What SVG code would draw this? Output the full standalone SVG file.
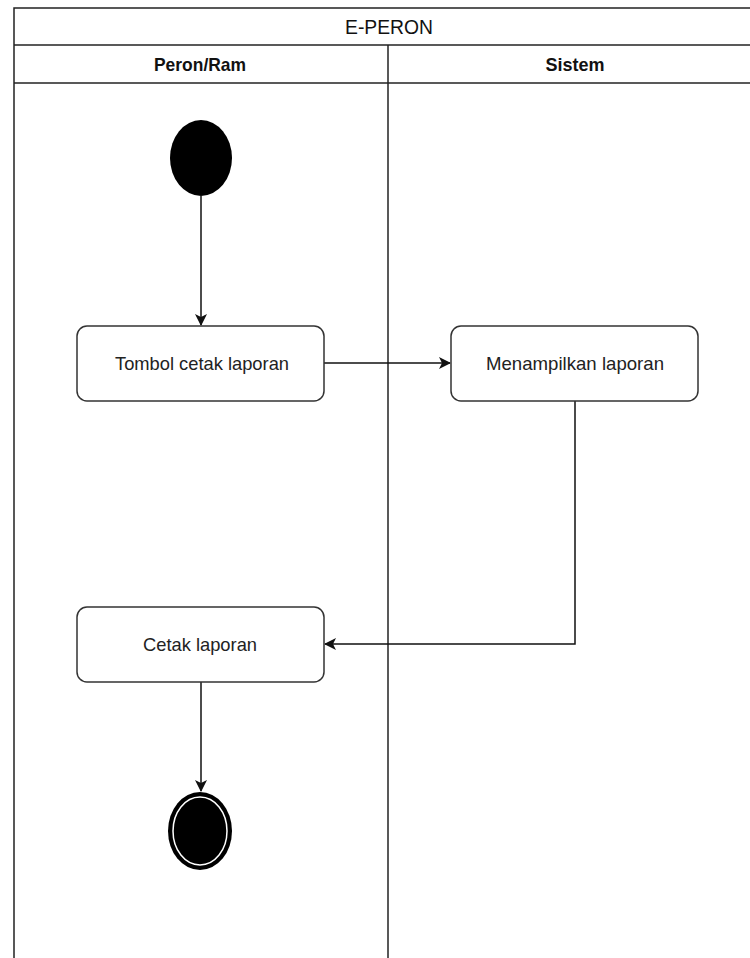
<svg xmlns="http://www.w3.org/2000/svg" width="750" height="958" viewBox="0 0 750 958">
  <style>
    .frame { fill: none; stroke: #222; stroke-width: 1.5; }
    .box { fill: #fff; stroke: #333; stroke-width: 1.5; }
    .edge { fill: none; stroke: #111; stroke-width: 1.5; }
    .lbl { font-family: "Liberation Sans", Arial, sans-serif; font-size: 19px; fill: #222; text-anchor: middle; }
    .title { font-family: "Liberation Sans", Arial, sans-serif; font-size: 20px; fill: #111; text-anchor: middle; }
    .head { font-family: "Liberation Sans", Arial, sans-serif; font-size: 19px; font-weight: bold; fill: #111; text-anchor: middle; }
  </style>
  <defs>
    <marker id="arrow" viewBox="0 0 12 12" refX="11" refY="6" markerWidth="12" markerHeight="12" markerUnits="userSpaceOnUse" orient="auto">
      <path d="M0,0 L12,6 L0,12 L3,6 Z" fill="#111"/>
    </marker>
  </defs>
  <rect width="750" height="958" fill="#fff"/>

  <!-- swimlane pool -->
  <g id="pool">
    <path class="frame" d="M14,960 V8 H752"/>
    <line class="frame" x1="14" y1="45" x2="752" y2="45"/>
    <line class="frame" x1="14" y1="83" x2="752" y2="83"/>
    <line class="frame" x1="388" y1="45" x2="388" y2="960"/>
    <text class="title" x="389" y="34" textLength="88" lengthAdjust="spacingAndGlyphs">E-PERON</text>
    <text class="head" x="200" y="71" textLength="92" lengthAdjust="spacingAndGlyphs">Peron/Ram</text>
    <text class="head" x="575" y="71" textLength="59" lengthAdjust="spacingAndGlyphs">Sistem</text>
  </g>

  <!-- connectors -->
  <g id="connectors">
    <path class="edge" d="M201,196 V325" marker-end="url(#arrow)"/>
    <path class="edge" d="M324,363 H450" marker-end="url(#arrow)"/>
    <path class="edge" d="M575,401 V644 H325" marker-end="url(#arrow)"/>
    <path class="edge" d="M201,682 V791" marker-end="url(#arrow)"/>
  </g>

  <g id="start">
    <ellipse cx="201" cy="158" rx="31" ry="38" fill="#000"/>
  </g>

  <g id="tombol">
    <rect class="box" x="77" y="326" width="247" height="75" rx="10"/>
    <text class="lbl" x="202" y="370" textLength="174" lengthAdjust="spacingAndGlyphs">Tombol cetak laporan</text>
  </g>

  <g id="menampilkan">
    <rect class="box" x="451" y="326" width="247" height="75" rx="10"/>
    <text class="lbl" x="575" y="370" textLength="178" lengthAdjust="spacingAndGlyphs">Menampilkan laporan</text>
  </g>

  <g id="cetak">
    <rect class="box" x="77" y="607" width="247" height="75" rx="10"/>
    <text class="lbl" x="200" y="651" textLength="114" lengthAdjust="spacingAndGlyphs">Cetak laporan</text>
  </g>

  <g id="end">
    <ellipse cx="200" cy="831" rx="32" ry="39" fill="#000"/>
    <ellipse cx="200" cy="831" rx="27" ry="34" fill="#000" stroke="#fff" stroke-width="1.5"/>
  </g>
</svg>
